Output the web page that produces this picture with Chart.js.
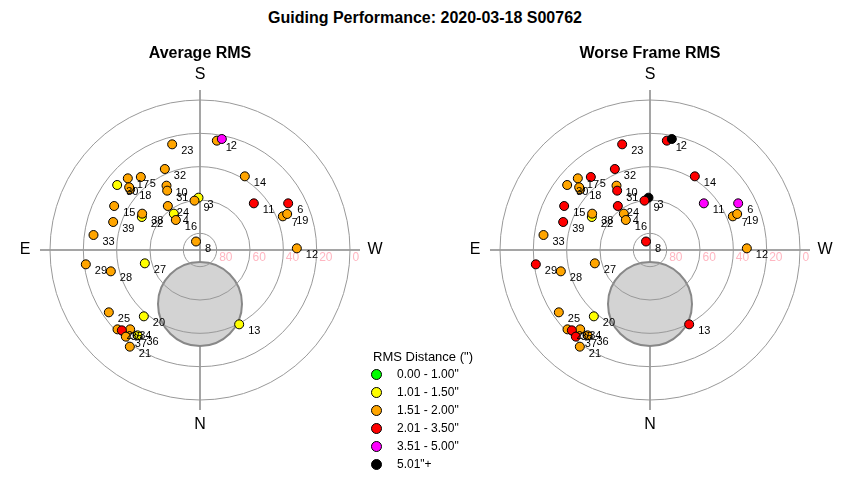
<!DOCTYPE html>
<html>
<head>
<meta charset="utf-8">
<script src="https://cdn.jsdelivr.net/npm/chart.js@4.4.0/dist/chart.umd.min.js"></script>
<style>
body { margin:0; width:850px; height:480px; background:#fff; position:relative; overflow:hidden;
       font-family:"Liberation Sans", Arial, sans-serif; color:#000; }
#title { position:absolute; top:8px; left:0; width:850px; text-align:center; font-weight:bold; font-size:16px; line-height:20px; }
#left { position:absolute; left:0; top:0; }
#right { position:absolute; left:450px; top:0; }
#legend { position:absolute; left:373px; top:349px; }
#legend .head { font-size:13px; line-height:16px; }
#legend .row { position:relative; height:18px; line-height:18px; padding-left:24px; font-size:12px; }
#legend .dot { position:absolute; left:-2.5px; top:3.5px; width:9px; height:9px; border-radius:50%; border:1px solid #000; }
</style>
</head>
<body>
<div id="title">Guiding Performance: 2020-03-18 S00762</div>
<canvas id="left" width="400" height="480"></canvas>
<canvas id="right" width="400" height="480"></canvas>
<div id="legend"></div>
<script>
// Поля гидирования: номер, смещение на запад (x) и на юг (y), в градусах от зенита
const pointLabels = ['1','2','3','4','5','6','7','8','9','10','11','12','13','14','15','16','17','18','','19',
                     '20','21','22','23','24','25','26','27','28','29','30','31','32','33','34','35','36','37','38','39'];
const westOffset  = [10.1, 13.1, -0.9, -15.7, -35.5, 52.9, 49.7, -2.4, -3.3, -20.1, 32.3, 58.1, 23.5, 26.9, -51.5, -14.5, -43.3, -41.9, -42.5, 52.3,
                     -33.7, -42.1, -34.9, -16.7, -19.3, -54.7, -49.5, -33.1, -53.5, -68.5, -49.7, -19.7, -21.1, -63.9, -41.9, -46.9, -37.5, -44.5, -34.7, -52.1];
const southOffset = [65.6, 66.6, 31.4, 21.8, 43.8, 28.0, 20.2, 5.1, 29.6, 38.6, 28.0, 1.0, -44.6, 44.2, 26.4, 18.0, 43.0, 36.4, 37.6, 21.6,
                     -39.8, -58.0, 19.8, 63.4, 26.4, -37.4, -47.6, -8.0, -12.8, -8.6, 39.0, 35.6, 48.6, 9.0, -47.6, -48.2, -51.2, -52.0, 21.8, 16.8];

// Класс RMS для каждого поля (индекс в binColors)
const avgBin   = [2,4,1,1,2,3,2,2,2,2,3,2,1,2,2,2,2,2,2,2, 1,2,1,2,2,2,2,1,2,2,1,2,2,2,2,3,1,2,2,2];
const worstBin = [3,5,5,2,3,4,2,3,3,2,4,2,3,3,3,2,2,2,2,2, 1,2,1,3,3,2,2,2,2,3,2,3,3,2,2,3,2,3,2,3];

const binLabels = ['0.00 - 1.00"', '1.01 - 1.50"', '1.51 - 2.00"', '2.01 - 3.50"', '3.51 - 5.00"', '5.01"+'];
const binColors = ['#00ff00', '#ffff00', '#ffa500', '#ff0000', '#ff00ff', '#000000'];

// Кольца высоты и подписи
const ringAltitudes = [80, 60, 40, 20, 0];
const ringLabels = ['80', '60', '40', '20', '0'];
const cardinalLabels = ['S', 'E', 'W', 'N'];

// Закрытая зона (серый круг)
const zoneCenterAlt = 57.6;
const zoneRadius = 25.2;

const axisLimit = 96;
const FONT = '"Liberation Sans", Arial, sans-serif';
Chart.defaults.font.family = FONT;
Chart.defaults.color = '#000';

// Легенда
const legend = document.getElementById('legend');
legend.innerHTML = '<div class="head">RMS Distance (")</div>' +
    binLabels.map((t, i) => `<div class="row"><span class="dot" style="background:${binColors[i]}"></span>${t}</div>`).join('');

const polarGrid = {
    id: 'polarGrid',
    beforeDatasetsDraw(chart) {
        const {ctx, scales: {x, y}} = chart;
        const cx = x.getPixelForValue(0), cy = y.getPixelForValue(0);
        ctx.save();
        // оси
        ctx.strokeStyle = '#888';
        ctx.lineWidth = 1.5;
        ctx.beginPath();
        ctx.moveTo(x.getPixelForValue(-axisLimit), cy);
        ctx.lineTo(x.getPixelForValue(axisLimit), cy);
        ctx.moveTo(cx, y.getPixelForValue(axisLimit));
        ctx.lineTo(cx, y.getPixelForValue(-axisLimit));
        ctx.stroke();
        // серый круг
        const zy = y.getPixelForValue(-(90 - zoneCenterAlt));
        const zr = x.getPixelForValue(zoneRadius) - cx;
        ctx.beginPath();
        ctx.arc(cx, zy, zr, 0, 2 * Math.PI);
        ctx.fillStyle = '#d3d3d3';
        ctx.fill();
        ctx.strokeStyle = '#888';
        ctx.lineWidth = 2;
        ctx.stroke();
        // кольца
        ctx.font = '12px ' + FONT;
        ctx.textAlign = 'left';
        ctx.textBaseline = 'middle';
        ringAltitudes.forEach((alt, i) => {
            const r = x.getPixelForValue(90 - alt) - cx;
            ctx.strokeStyle = '#999';
            ctx.lineWidth = 1;
            ctx.beginPath();
            ctx.arc(cx, cy, r, 0, 2 * Math.PI);
            ctx.stroke();
            ctx.fillStyle = '#ffb6c1';
            ctx.fillText(ringLabels[i], cx + r + 2.5, cy + 8);
        });
        ctx.restore();
    },
    afterDatasetsDraw(chart) {
        const ctx = chart.ctx;
        const meta = chart.getDatasetMeta(0);
        ctx.save();
        ctx.font = '11px ' + FONT;
        ctx.fillStyle = '#000';
        ctx.textAlign = 'left';
        ctx.textBaseline = 'middle';
        meta.data.forEach((el, i) => {
            if (pointLabels[i]) ctx.fillText(pointLabels[i], el.x + 9, el.y + 7);
        });
        ctx.restore();
    },
    afterDraw(chart) {
        const {ctx, scales: {x, y}} = chart;
        const R = 105;
        const pos = {S: [0, R], E: [-R, 0], W: [R, 0], N: [0, -R]};
        ctx.save();
        ctx.font = '16px ' + FONT;
        ctx.fillStyle = '#000';
        ctx.textAlign = 'center';
        ctx.textBaseline = 'middle';
        cardinalLabels.forEach(c => {
            ctx.fillText(c, x.getPixelForValue(pos[c][0]), y.getPixelForValue(pos[c][1]));
        });
        ctx.restore();
    }
};

function drawPolar(canvasId, title, bins) {
    new Chart(document.getElementById(canvasId), {
        type: 'scatter',
        data: {
            datasets: [{
                data: westOffset.map((v, i) => ({x: v, y: southOffset[i]})),
                backgroundColor: bins.map(b => binColors[b]),
                borderColor: '#000',
                borderWidth: 1,
                pointRadius: 4.5,
                pointHoverRadius: 4.5,
                clip: false
            }]
        },
        options: {
            responsive: false,
            animation: false,
            events: [],
            layout: {padding: {left: 40, right: 40, top: 0, bottom: 70}},
            scales: {
                x: {type: 'linear', min: -axisLimit, max: axisLimit, display: false},
                y: {type: 'linear', min: -axisLimit, max: axisLimit, display: false}
            },
            plugins: {
                legend: {display: false},
                tooltip: {enabled: false},
                title: {
                    display: true,
                    text: title,
                    color: '#000',
                    font: {size: 16, weight: 'bold'},
                    padding: {top: 44, bottom: 26.8}
                }
            }
        },
        plugins: [polarGrid]
    });
}

drawPolar('left', 'Average RMS', avgBin);
drawPolar('right', 'Worse Frame RMS', worstBin);
</script>
</body>
</html>
